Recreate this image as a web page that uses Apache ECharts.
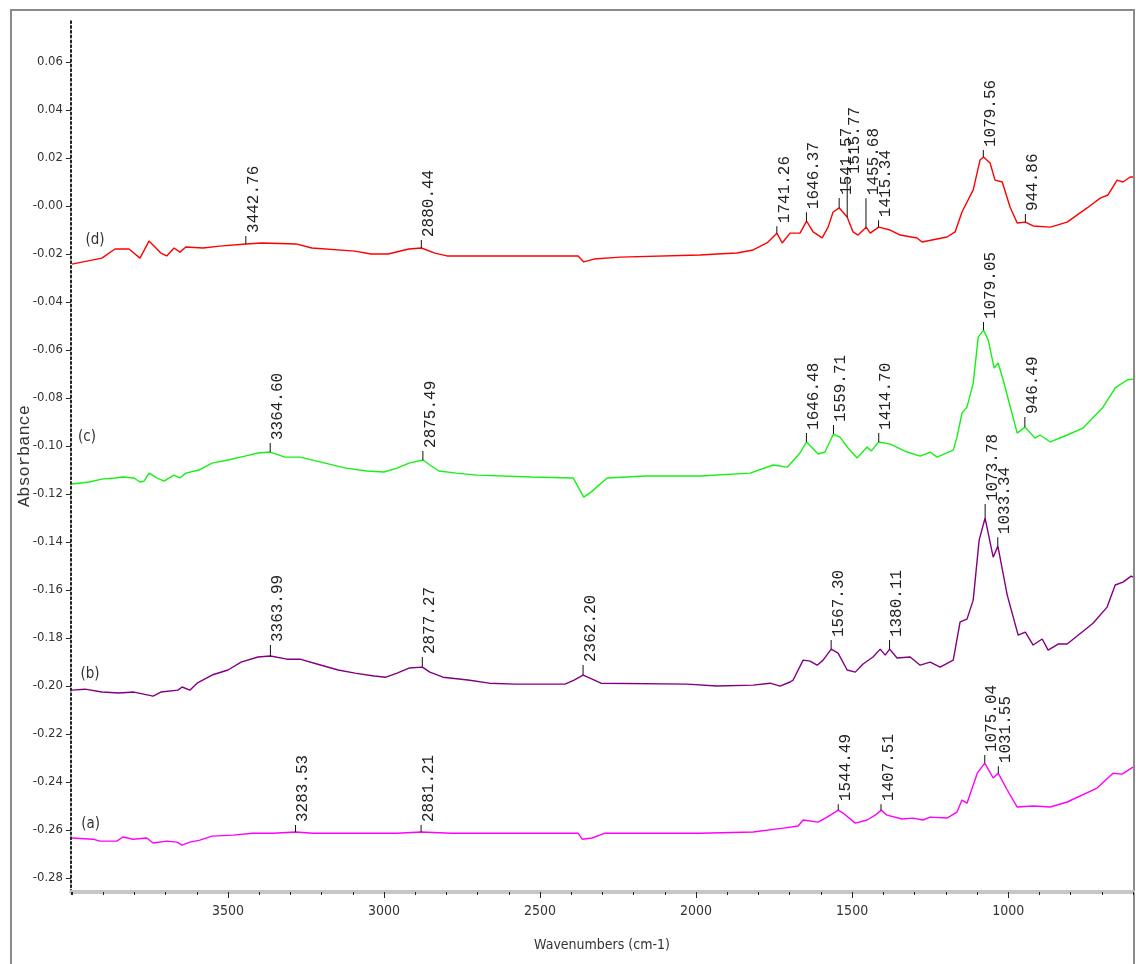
<!DOCTYPE html>
<html>
<head>
<meta charset="utf-8">
<title>FTIR spectra (a)-(d)</title>
<script src="https://cdn.jsdelivr.net/npm/echarts@6/dist/echarts.min.js"></script>
<style>
  html, body { margin: 0; background: #fff; }
  #chart { width: 1136px; height: 964px; }
</style>
</head>
<body>
<div id="chart"></div>
<script>
// spectrum (d) - red
var waveD = [4000,3904,3862,3817,3782,3753,3715,3696,3673,3654,3635,3580,3526,3442,3391,3282,3231,3093,3042,2987,2920,2880,2837,2798,2378,2360,2327,2244,1987,1933,1869,1817,1773,1741,1724,1699,1667,1646,1625,1596,1577,1561,1541,1516,1497,1481,1455,1442,1415,1378,1346,1292,1276,1196,1170,1148,1112,1090,1079,1058,1042,1019,994,971,945,920,865,811,747,705,680,651,632,609,600];
var absD = [-0.0242,-0.0217,-0.0179,-0.0179,-0.0217,-0.0146,-0.0196,-0.0208,-0.0175,-0.0192,-0.0171,-0.0175,-0.0167,-0.0158,-0.0154,-0.0158,-0.0175,-0.0188,-0.0200,-0.0200,-0.0179,-0.0175,-0.0196,-0.0208,-0.0208,-0.0233,-0.0221,-0.0213,-0.0204,-0.0200,-0.0196,-0.0183,-0.0154,-0.0113,-0.0154,-0.0113,-0.0113,-0.0063,-0.0108,-0.0133,-0.0088,-0.0025,-0.0008,-0.0046,-0.0108,-0.0121,-0.0088,-0.0113,-0.0088,-0.0100,-0.0121,-0.0133,-0.0150,-0.0129,-0.0108,-0.0025,0.0067,0.0192,0.0204,0.0179,0.0108,0.0100,-0.0004,-0.0071,-0.0067,-0.0083,-0.0088,-0.0067,-0.0008,0.0033,0.0046,0.0108,0.0100,0.0121,0.0121];

// spectrum (c) - green
var waveC = [4000,3945,3904,3862,3837,3801,3782,3769,3753,3728,3705,3673,3654,3635,3593,3551,3500,3446,3404,3365,3317,3269,3202,3122,3055,3000,2958,2920,2875,2853,2824,2769,2702,2529,2394,2360,2337,2285,2164,1987,1827,1753,1708,1667,1646,1609,1587,1560,1539,1513,1484,1452,1439,1415,1378,1324,1282,1250,1228,1176,1164,1148,1132,1112,1096,1079,1064,1045,1032,1016,971,946,914,898,865,811,760,696,657,619,600];
var absC = [-0.1158,-0.1150,-0.1138,-0.1133,-0.1129,-0.1133,-0.1150,-0.1146,-0.1113,-0.1133,-0.1146,-0.1121,-0.1133,-0.1113,-0.1100,-0.1071,-0.1058,-0.1042,-0.1029,-0.1025,-0.1046,-0.1046,-0.1067,-0.1092,-0.1104,-0.1108,-0.1092,-0.1071,-0.1058,-0.1079,-0.1104,-0.1113,-0.1121,-0.1129,-0.1133,-0.1213,-0.1192,-0.1133,-0.1125,-0.1125,-0.1113,-0.1079,-0.1088,-0.1029,-0.0983,-0.1033,-0.1025,-0.0950,-0.0963,-0.1008,-0.1050,-0.1004,-0.1021,-0.0983,-0.0992,-0.1025,-0.1042,-0.1025,-0.1046,-0.1017,-0.0963,-0.0863,-0.0838,-0.0738,-0.0546,-0.0517,-0.0558,-0.0675,-0.0654,-0.0725,-0.0946,-0.0921,-0.0967,-0.0954,-0.0983,-0.0954,-0.0925,-0.0838,-0.0758,-0.0725,-0.0721];

// spectrum (b) - purple
var waveB = [4000,3958,3904,3849,3801,3740,3715,3660,3647,3622,3599,3551,3500,3458,3404,3364,3311,3269,3215,3147,3093,3032,2994,2958,2920,2877,2853,2811,2731,2663,2580,2420,2391,2362,2340,2305,2029,1933,1817,1763,1731,1699,1689,1657,1635,1612,1593,1567,1545,1516,1490,1465,1433,1410,1394,1380,1356,1314,1282,1250,1218,1176,1154,1132,1112,1093,1074,1048,1033,1003,968,945,920,891,872,840,811,728,683,657,632,606,600];
var absB = [-0.2017,-0.2013,-0.2025,-0.2029,-0.2025,-0.2042,-0.2025,-0.2017,-0.2004,-0.2017,-0.1988,-0.1954,-0.1933,-0.1900,-0.1879,-0.1875,-0.1888,-0.1888,-0.1908,-0.1933,-0.1946,-0.1958,-0.1963,-0.1946,-0.1925,-0.1921,-0.1942,-0.1963,-0.1975,-0.1988,-0.1992,-0.1992,-0.1975,-0.1954,-0.1967,-0.1988,-0.1992,-0.2000,-0.1996,-0.1988,-0.2000,-0.1983,-0.1975,-0.1892,-0.1896,-0.1913,-0.1892,-0.1846,-0.1863,-0.1933,-0.1942,-0.1908,-0.1879,-0.1846,-0.1871,-0.1846,-0.1883,-0.1879,-0.1913,-0.1900,-0.1921,-0.1892,-0.1733,-0.1721,-0.1642,-0.1392,-0.1300,-0.1463,-0.1417,-0.1621,-0.1788,-0.1775,-0.1829,-0.1804,-0.1850,-0.1825,-0.1825,-0.1738,-0.1671,-0.1579,-0.1567,-0.1542,-0.1546];

// spectrum (a) - magenta
var waveA = [4000,3933,3910,3856,3837,3804,3760,3740,3696,3663,3647,3622,3590,3551,3484,3420,3356,3283,3228,3093,2958,2881,2785,2378,2365,2333,2292,1987,1817,1721,1673,1657,1609,1580,1544,1529,1490,1452,1426,1407,1388,1340,1305,1273,1250,1196,1164,1148,1132,1099,1075,1048,1032,1003,971,920,865,811,715,664,635,600];
var absA = [-0.2633,-0.2638,-0.2646,-0.2646,-0.2629,-0.2638,-0.2633,-0.2654,-0.2646,-0.2650,-0.2663,-0.2650,-0.2642,-0.2625,-0.2621,-0.2613,-0.2613,-0.2608,-0.2613,-0.2613,-0.2613,-0.2608,-0.2613,-0.2613,-0.2638,-0.2633,-0.2613,-0.2613,-0.2608,-0.2592,-0.2583,-0.2558,-0.2567,-0.2546,-0.2517,-0.2529,-0.2571,-0.2558,-0.2538,-0.2517,-0.2538,-0.2554,-0.2550,-0.2558,-0.2546,-0.2550,-0.2525,-0.2475,-0.2488,-0.2363,-0.2321,-0.2383,-0.2363,-0.2433,-0.2504,-0.2500,-0.2504,-0.2483,-0.2425,-0.2363,-0.2367,-0.2338];

// labelled peaks: wavenumber and absorbance at the peak
var peakWaveD = [3442.76, 2880.44, 1741.26, 1646.37, 1541.57, 1515.77, 1455.68, 1415.34, 1079.56, 944.86];
var peakAbsD = [-0.0158, -0.0175, -0.0113, -0.0063, -0.0008, -0.0046, -0.0088, -0.0088, 0.0204, -0.0067];
var peakWaveC = [3364.60, 2875.49, 1646.48, 1559.71, 1414.70, 1079.05, 946.49];
var peakAbsC = [-0.1025, -0.1058, -0.0983, -0.0950, -0.0983, -0.0517, -0.0921];
var peakWaveB = [3363.99, 2877.27, 2362.20, 1567.30, 1380.11, 1073.78, 1033.34];
var peakAbsB = [-0.1875, -0.1921, -0.1954, -0.1846, -0.1846, -0.1300, -0.1417];
var peakWaveA = [3283.53, 2881.21, 1544.49, 1407.51, 1075.04, 1031.55];
var peakAbsA = [-0.2608, -0.2608, -0.2517, -0.2517, -0.2321, -0.2363];

// tick marks above the peaks (px)
var tickLenD = [8, 8, 7, 9, 10, 40, 29, 7, 7, 8];
var tickLenC = [9, 9, 9, 9, 9, 8, 10];
var tickLenB = [11, 10, 10, 9, 9, 14, 9];
var tickLenA = [7, 7, 6, 6, 8, 7];

var traceNames = ['(a)', '(b)', '(c)', '(d)'];
var tagWave = [3940, 3942, 3952, 3926];
var tagAbs = [-0.2575, -0.1950, -0.0963, -0.0142];

var xLabelValues = [1000, 1500, 2000, 2500, 3000, 3500];
var yLabelValues = [-0.28, -0.26, -0.24, -0.22, -0.20, -0.18, -0.16, -0.14, -0.12, -0.10, -0.08, -0.06, -0.04, -0.02, 0, 0.02, 0.04, 0.06];

var narrow = "'Liberation Sans Narrow', 'DejaVu Sans Condensed', sans-serif";
var mono = "'Liberation Mono', 'DejaVu Sans Mono', monospace";

function zip(xs, ys) {
  return xs.map(function (x, i) { return [x, ys[i]]; });
}

// vertical tick plus rotated wavenumber text for each peak
function peakMarks(waves, values, lens, tagIdx) {
  var marks = waves.map(function (w, i) {
    var len = lens[i];
    return {
      coord: [w, values[i]],
      symbol: 'rect',
      symbolSize: [1, len],
      symbolOffset: [0, -len / 2],
      itemStyle: { color: '#111' },
      label: {
        show: true,
        formatter: w.toFixed(2),
        position: [8, -3],
        rotate: 90,
        align: 'left',
        verticalAlign: 'middle',
        fontFamily: mono,
        fontSize: 16,
        color: '#222'
      }
    };
  });
  marks.push({
    coord: [tagWave[tagIdx], tagAbs[tagIdx]],
    symbol: 'circle',
    symbolSize: 0,
    label: {
      show: true,
      formatter: traceNames[tagIdx],
      position: 'inside',
      fontFamily: narrow,
      fontSize: 15,
      color: '#333'
    }
  });
  return marks;
}

function spectrum(name, color, waves, values, marks) {
  return {
    name: name,
    type: 'line',
    xAxisIndex: 0,
    showSymbol: false,
    symbol: 'none',
    lineStyle: { color: color, width: 1.4 },
    itemStyle: { color: color },
    data: zip(waves, values),
    markPoint: { silent: true, animation: false, data: marks }
  };
}

var chart = echarts.init(document.getElementById('chart'));

var option = {
  animation: false,
  backgroundColor: '#fff',
  grid: { left: 71, right: 3, top: 20, bottom: 72, containLabel: false, outerBoundsMode: 'none' },
  xAxis: [
    {
      type: 'value',
      position: 'bottom',
      inverse: true,
      min: 600,
      max: 4003,
      interval: 100,
      axisLine: { onZero: false, lineStyle: { color: '#c6c6c6', width: 4 } },
      axisTick: { length: 3, lineStyle: { color: '#222' } },
      axisLabel: { show: false },
      splitLine: { show: false }
    },
    {
      type: 'value',
      position: 'bottom',
      inverse: true,
      min: 600,
      max: 4003,
      axisLine: { show: false, onZero: false },
      axisTick: { customValues: xLabelValues, length: 6, lineStyle: { color: '#222' } },
      axisLabel: {
        customValues: xLabelValues,
        margin: 12,
        fontFamily: narrow,
        fontSize: 14,
        color: '#333',
        formatter: function (v) { return String(v); }
      },
      splitLine: { show: false },
      name: 'Wavenumbers (cm-1)',
      nameLocation: 'middle',
      nameGap: 46,
      nameMoveOverlap: false,
      nameTextStyle: { fontFamily: narrow, fontSize: 14, color: '#333' }
    }
  ],
  yAxis: {
    type: 'value',
    min: -0.2858,
    max: 0.0775,
    axisLine: { show: true, onZero: false, lineStyle: { color: '#222', width: 2, type: [2, 2.8] } },
    axisTick: { customValues: yLabelValues, length: 5, lineStyle: { color: '#222' } },
    axisLabel: {
      customValues: yLabelValues,
      margin: 8,
      fontFamily: narrow,
      fontSize: 13,
      color: '#333',
      formatter: function (v) {
        return Math.abs(v) < 1e-9 ? '-0.00' : v.toFixed(2);
      }
    },
    splitLine: { show: false },
    name: 'Absorbance',
    nameLocation: 'middle',
    nameGap: 38,
    nameRotate: 90,
    nameMoveOverlap: false,
    nameTextStyle: { fontFamily: mono, fontSize: 17, color: '#333' }
  },
  graphic: [
    {
      type: 'polyline',
      silent: true,
      shape: { points: [[11, 964], [11, 10], [1134, 10], [1134, 964]] },
      style: { stroke: '#8a8a8a', lineWidth: 2, fill: null }
    }
  ],
  series: [
    spectrum('(a)', '#ff00ff', waveA, absA, peakMarks(peakWaveA, peakAbsA, tickLenA, 0)),
    spectrum('(b)', '#800080', waveB, absB, peakMarks(peakWaveB, peakAbsB, tickLenB, 1)),
    spectrum('(c)', '#16f016', waveC, absC, peakMarks(peakWaveC, peakAbsC, tickLenC, 2)),
    spectrum('(d)', '#ff0000', waveD, absD, peakMarks(peakWaveD, peakAbsD, tickLenD, 3))
  ]
};

chart.setOption(option);
</script>
</body>
</html>
